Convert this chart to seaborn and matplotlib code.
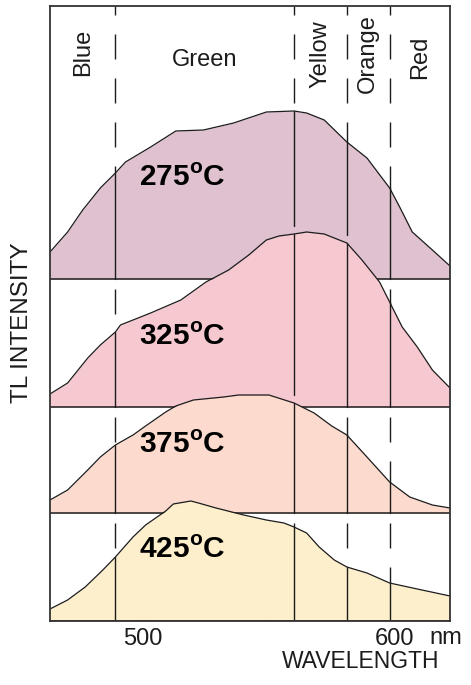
import numpy as np
import matplotlib
matplotlib.use("Agg")
import matplotlib.pyplot as plt
import seaborn as sns

# Spectral bands (nm)
band_edges = [489, 560, 581, 598]
band_names = ["Blue", "Green", "Yellow", "Orange", "Red"]
wl_min, wl_max = 463, 622

temperatures = ["275", "325", "375", "425"]

# TL emission spectra: wavelength (nm) and relative intensity
wl_275 = [463, 470, 476, 483, 489, 493, 503, 513, 524, 536, 549, 560, 565, 572,
          581, 589, 598, 602, 607, 615, 622]
tl_275 = [27, 47, 69, 91, 106, 117, 132, 148, 149, 156, 167, 168, 166, 159,
          137, 121, 91, 72, 47, 29, 13]

wl_325 = [463, 470, 478, 483, 489, 491, 503, 515, 525, 534, 542, 549, 554, 560,
          565, 572, 581, 587, 594, 598, 603, 609, 615, 622]
tl_325 = [13, 24, 49, 62, 75, 82, 94, 107, 125, 137, 152, 167, 171, 173,
          175, 173, 164, 147, 125, 105, 80, 60, 37, 19]

wl_375 = [463, 470, 478, 483, 489, 496, 501, 509, 513, 520, 532, 538, 550, 560,
          568, 575, 581, 589, 598, 606, 615, 622]
tl_375 = [13, 23, 43, 56, 68, 78, 87, 101, 107, 113, 116, 118, 118, 110,
          100, 87, 78, 56, 31, 16, 8, 5]

wl_425 = [463, 470, 477, 484, 489, 496, 501, 509, 512, 519, 522, 529, 540, 549,
          556, 560, 565, 570, 576, 581, 589, 598, 609, 622]
tl_425 = [12, 21, 34, 51, 64, 84, 96, 110, 117, 120, 118, 113, 106, 101,
          98, 94, 88, 74, 61, 54, 48, 38, 32, 25]

spectra = [(wl_275, tl_275), (wl_325, tl_325), (wl_375, tl_375), (wl_425, tl_425)]
fill_colors = ["#dfc1cf", "#f6c9d1", "#fcdacd", "#fdefcb"]

# Stacked layout: baseline of each spectrum and top of its strip
baselines = [342, 214, 108, 0]
strip_tops = [615, 342, 214, 108]
label_rise = [93, 62, 60, 63]
ink = "#1c1c1c"

sns.set_theme(style="white")
plt.rcParams["font.family"] = ["Liberation Sans", "DejaVu Sans"]
plt.rcParams["mathtext.fontset"] = "custom"
plt.rcParams["mathtext.rm"] = "Liberation Sans:bold"
plt.rcParams["lines.scale_dashes"] = False

fig = plt.figure(figsize=(4.71, 6.85), dpi=100)
ax = fig.add_axes([50 / 471, 64 / 685, 400 / 471, 615 / 685])
ax.set_xlim(wl_min, wl_max)
ax.set_ylim(0, 615)

px = 0.72  # points per pixel at 100 dpi
dash_on, dash_off = 25 * px, 19 * px

for i, ((wl, tl), color) in enumerate(zip(spectra, fill_colors)):
    base = baselines[i]
    y = base + np.asarray(tl, dtype=float)
    z = 2 + 3 * i

    # band boundaries in the empty part of the strip
    offset = (dash_on - 9 * px) if i == 0 else (dash_on + dash_off - 10 * px)
    for e in band_edges:
        ax.plot([e, e], [strip_tops[i], base], color=ink, lw=1.0,
                linestyle=(offset, (dash_on, dash_off)), zorder=1)

    ax.fill_between(wl, base, y, color=color, lw=0, zorder=z)
    sns.lineplot(x=wl, y=y, ax=ax, color=ink, lw=0.9, estimator=None,
                 sort=False, zorder=z + 1)
    ax.axhline(base, color=ink, lw=1.1, zorder=z + 1)

    # band boundaries inside the filled spectrum
    for e in band_edges:
        top = np.interp(e, wl, y)
        low = base
        if i + 1 < len(spectra):
            wl_n, tl_n = spectra[i + 1]
            low = max(base, baselines[i + 1] + np.interp(e, wl_n, tl_n) + 8)
        if top > low:
            ax.plot([e, e], [low, top], color=ink, lw=1.0, zorder=z + 1)

    ax.text(498.3, base + label_rise[i], f"{temperatures[i]}$^{{\\mathrm{{o}}}}$C",
            fontsize=21.5, fontweight="bold", color="black", ha="left",
            va="baseline", zorder=30)

# band names
bounds = [wl_min] + band_edges + [wl_max]
band_y = [569, 561, 567, 567, 564]
for name, lo, hi, by in zip(band_names, bounds[:-1], bounds[1:], band_y):
    ax.text((lo + hi) / 2, by, name, fontsize=17, color=ink,
            rotation=0 if hi - lo > 30 else 90, ha="center", va="center",
            zorder=30)

ax.set_xticks([500, 550, 600])
ax.set_xticklabels(["500", "", "600"])
ax.set_yticks([])
ax.set_xlabel("")
ax.set_ylabel("")
ax.tick_params(axis="x", bottom=True, direction="in", length=4.5, width=1.0,
               color=ink, labelsize=17, labelcolor=ink, pad=5)
for s in ax.spines.values():
    s.set_color("#333333")
    s.set_linewidth(1.3)
    s.set_zorder(40)

fig.text(446 / 471, 1 - 638 / 685, "nm", fontsize=17, color=ink,
         ha="center", va="center")
fig.text(361 / 471, 1 - 662 / 685, "WAVELENGTH", fontsize=16.5, color=ink,
         ha="center", va="center")
fig.text(22.5 / 471, 1 - 323 / 685, "TL INTENSITY", fontsize=17.5, color=ink,
         rotation=90, ha="center", va="center")

fig.savefig("out.png", dpi=100, facecolor="white")
